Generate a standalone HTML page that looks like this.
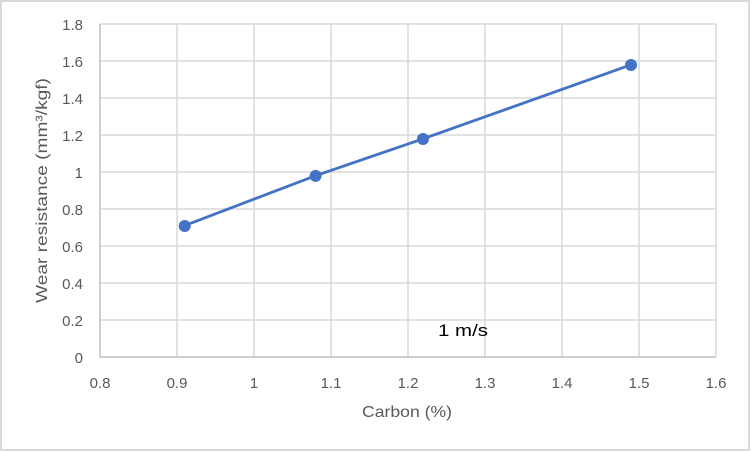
<!DOCTYPE html>
<html>
<head>
<meta charset="utf-8">
<style>
html,body{margin:0;padding:0;background:#fff;}
svg{display:block;}
text{font-family:"Liberation Sans",sans-serif;}
</style>
</head>
<body>
<svg width="752" height="452" viewBox="0 0 752 452" xmlns="http://www.w3.org/2000/svg">
<rect x="0" y="0" width="752" height="452" fill="#fff"/>
<rect x="1" y="1" width="748" height="449" fill="none" stroke="#d9d9d9" stroke-width="2"/>
<g stroke="#d9d9d9" stroke-width="1.5">
<line x1="100" y1="24" x2="716" y2="24"/>
<line x1="100" y1="61" x2="716" y2="61"/>
<line x1="100" y1="98" x2="716" y2="98"/>
<line x1="100" y1="135" x2="716" y2="135"/>
<line x1="100" y1="172" x2="716" y2="172"/>
<line x1="100" y1="209" x2="716" y2="209"/>
<line x1="100" y1="246" x2="716" y2="246"/>
<line x1="100" y1="283" x2="716" y2="283"/>
<line x1="100" y1="320" x2="716" y2="320"/>
<line x1="177" y1="24" x2="177" y2="357"/>
<line x1="254" y1="24" x2="254" y2="357"/>
<line x1="331" y1="24" x2="331" y2="357"/>
<line x1="408" y1="24" x2="408" y2="357"/>
<line x1="485" y1="24" x2="485" y2="357"/>
<line x1="562" y1="24" x2="562" y2="357"/>
<line x1="639" y1="24" x2="639" y2="357"/>
<line x1="716" y1="24" x2="716" y2="357"/>
</g>
<g stroke="#bfbfbf" stroke-width="1.5">
<line x1="100" y1="24" x2="100" y2="357.5"/>
<line x1="100" y1="357" x2="716" y2="357"/>
</g>
<g font-size="15" fill="#595959" text-anchor="end">
<text x="83" y="30">1.8</text>
<text x="83" y="67">1.6</text>
<text x="83" y="104">1.4</text>
<text x="83" y="141">1.2</text>
<text x="83" y="178">1</text>
<text x="83" y="215">0.8</text>
<text x="83" y="252">0.6</text>
<text x="83" y="289">0.4</text>
<text x="83" y="326">0.2</text>
<text x="83" y="363">0</text>
</g>
<g font-size="15" fill="#595959" text-anchor="middle">
<text x="100" y="388">0.8</text>
<text x="177" y="388">0.9</text>
<text x="254" y="388">1</text>
<text x="331" y="388">1.1</text>
<text x="408" y="388">1.2</text>
<text x="485" y="388">1.3</text>
<text x="562" y="388">1.4</text>
<text x="639" y="388">1.5</text>
<text x="716" y="388">1.6</text>
</g>
<text x="407" y="417" font-size="16" fill="#595959" text-anchor="middle" textLength="90" lengthAdjust="spacingAndGlyphs">Carbon (%)</text>
<text transform="translate(47,190.5) rotate(-90)" font-size="16" fill="#595959" text-anchor="middle" textLength="225" lengthAdjust="spacingAndGlyphs">Wear resistance (mm³/kgf)</text>
<text x="438" y="336" font-size="17" fill="#000" textLength="50" lengthAdjust="spacingAndGlyphs">1 m/s</text>
<polyline points="184.7,225.6 315.6,175.7 423.4,138.7 631.3,64.7" fill="none" stroke="#4472c4" stroke-width="2.8" stroke-linejoin="round"/>
<g fill="#4472c4">
<circle cx="184.7" cy="226" r="6"/>
<circle cx="315.6" cy="175.9" r="6"/>
<circle cx="423" cy="139" r="6"/>
<circle cx="631" cy="65" r="6"/>
</g>
</svg>
</body>
</html>
